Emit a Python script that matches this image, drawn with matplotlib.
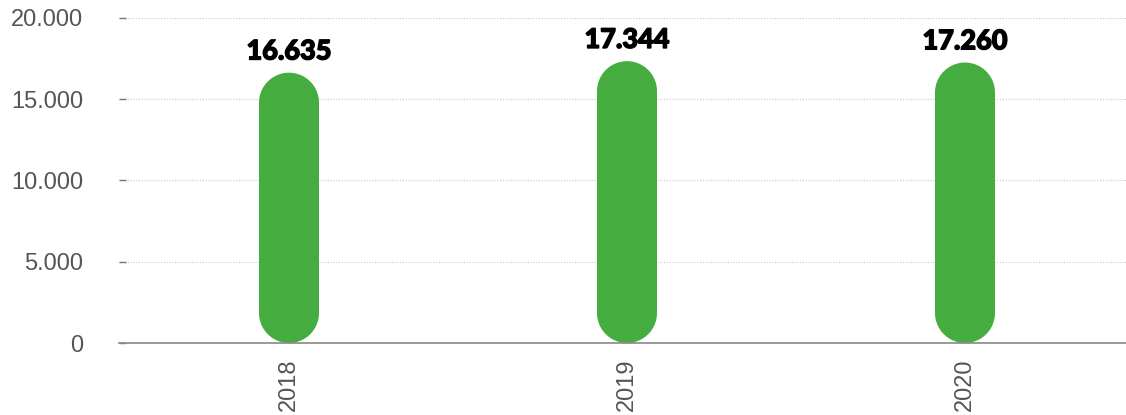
import numpy as np
import matplotlib
matplotlib.use("Agg")
import matplotlib.pyplot as plt
import matplotlib.patheffects as pe
import matplotlib.transforms as mtrans
from matplotlib.patches import Polygon
from matplotlib.ticker import FuncFormatter

years = ["2018", "2019", "2020"]
values = [16635, 17344, 17260]
value_labels = ["16.635", "17.344", "17.260"]
y_ticks = [0, 5000, 10000, 15000, 20000]

GREEN = "#45AD3F"
W, H, DPI = 1126, 415, 100

fig = plt.figure(figsize=(W / DPI, H / DPI), dpi=DPI)
left_px, right_px = 119, 1126
bottom_px, top_px = 343, 18
ax = fig.add_axes([left_px / W, (H - bottom_px) / H,
                   (right_px - left_px) / W, (bottom_px - top_px) / H])

step_px = 338.0
first_center_px = 289.0
x0 = -(first_center_px - left_px) / step_px
ax.set_xlim(x0, x0 + (right_px - left_px) / step_px)
ax.set_ylim(0, 20000)

# pixel scales so the bar ends are true semicircles on screen
p0 = ax.transData.transform((0, 0))
px_per_x = ax.transData.transform((1, 0))[0] - p0[0]
px_per_y = ax.transData.transform((0, 1))[1] - p0[1]

bar_px = 60.0
rx = bar_px / 2 / px_per_x
ry = bar_px / 2 / px_per_y


def pill(cx, top):
    t_top = np.linspace(0, np.pi, 40)
    t_bot = np.linspace(np.pi, 2 * np.pi, 40)
    upper = np.column_stack([cx + rx * np.cos(t_top), top - ry + ry * np.sin(t_top)])
    lower = np.column_stack([cx + rx * np.cos(t_bot), ry + ry * np.sin(t_bot)])
    return np.vstack([upper, lower])


for i, (v, lab) in enumerate(zip(values, value_labels)):
    ax.add_patch(Polygon(pill(i, v), closed=True, facecolor=GREEN,
                         edgecolor="none", zorder=3))
    ax.annotate(lab, (i, v), xytext=(0, 9.5), textcoords="offset points",
                ha="center", va="baseline", fontsize=19.5, fontweight="black",
                fontstretch="normal", family="Lato", color="black",
                clip_on=False, zorder=4,
                path_effects=[pe.withStroke(linewidth=1.0, foreground="black")])

ax.set_xticks(range(len(years)))
ax.set_xticklabels(years, rotation=90, family="Liberation Sans",
                   fontsize=17, color="#555555")
ax.tick_params(axis="x", length=0, pad=11)

ax.set_yticks(y_ticks)
ax.yaxis.set_major_formatter(FuncFormatter(lambda v, p: f"{int(v):,}".replace(",", ".")))
shift = mtrans.ScaledTranslation(0, -2.5 / DPI, fig.dpi_scale_trans)
for t in ax.get_yticklabels():
    t.set_family("Liberation Sans")
    t.set_va("center_baseline")
    t.set_transform(t.get_transform() + shift)
ax.tick_params(axis="y", direction="in", length=5, width=1, color="#777777",
               labelsize=17, labelcolor="#555555", pad=26)

ax.grid(axis="y", linestyle=(0, (1, 1.5)), color="#c8c8c8", linewidth=0.8, zorder=0)
ax.set_axisbelow(True)
for s in ["top", "right", "left"]:
    ax.spines[s].set_visible(False)
ax.spines["bottom"].set_color("#888888")
ax.spines["bottom"].set_linewidth(1.2)
ax.spines["bottom"].set_zorder(5)

fig.savefig("out.png", dpi=DPI)
